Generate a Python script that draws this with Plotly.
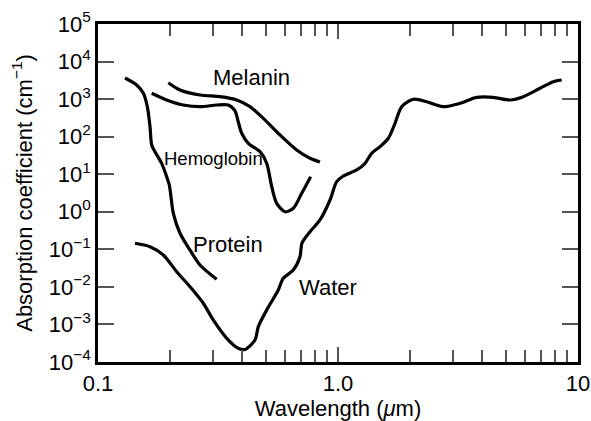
import math
import plotly.graph_objects as go

# ---- data (wavelength in micrometres, absorption coefficient in cm^-1) ----
protein_wl = [0.1296, 0.1449, 0.1545, 0.1605, 0.1647, 0.1674, 0.1727, 0.1842, 0.1933,
              0.1982, 0.2014, 0.2060, 0.2196, 0.2416, 0.2660, 0.3122]
protein_abs = [3650, 2377, 1429, 628, 184, 60, 39.8, 19.5, 8.6,
               5.17, 2.52, 0.912, 0.268, 0.0962, 0.0384, 0.016]

hemo_wl = [0.1674, 0.1933, 0.2266, 0.2660, 0.3122, 0.3490, 0.3723, 0.3842, 0.3970,
           0.4228, 0.4732, 0.5046, 0.5295, 0.5554, 0.6014, 0.6513, 0.7059, 0.7694]
hemo_abs = [1429, 948, 697, 628, 697, 697, 483, 246, 123,
            66.7, 39.8, 19.5, 4.66, 1.68, 1.0, 1.24, 3.11, 8.6]

melanin_wl = [0.1963, 0.2196, 0.2660, 0.3225, 0.3784, 0.4299, 0.4884, 0.5733, 0.6727,
              0.7647, 0.8414]
melanin_abs = [2737, 1750, 1288, 1160, 948, 628, 308, 111, 44.2, 26.6, 21.2]

water_wl = [0.1426, 0.1647, 0.1871, 0.2128, 0.2416, 0.2746, 0.3021, 0.3438, 0.3842,
            0.4097, 0.4509, 0.4656, 0.5046, 0.5638, 0.5916, 0.6513, 0.6945, 0.7080,
            0.7647, 0.8414, 0.9261, 0.9876, 1.052, 1.197, 1.296, 1.382, 1.496, 1.621,
            1.728, 1.842, 2.060, 2.342, 2.747, 3.224, 3.784, 4.437, 5.210, 5.918,
            6.945, 7.890, 8.550]
water_abs = [0.145, 0.1178, 0.0708, 0.0254, 0.01014, 0.00366, 0.001315, 0.000428, 0.000232,
             0.000216, 0.000386, 0.000873, 0.00243, 0.00828, 0.01695, 0.0282, 0.0638, 0.1476,
             0.295, 0.605, 2.06, 6.32, 8.98, 12.97, 19.5, 36.1, 54.1, 90.6,
             227, 628, 989, 853, 628, 774, 1117, 1117, 948, 1160,
             1941, 2911, 3228]

x_major = [0.1, 1, 10]
x_major_text = ["0.1", "1.0", "10"]
x_minor = [0.2, 0.3, 0.4, 0.5, 0.6, 0.7, 0.8, 0.9, 2, 3, 4, 5, 6, 7, 8, 9]
y_ticks = [1e-4, 1e-3, 1e-2, 1e-1, 1e0, 1e1, 1e2, 1e3, 1e4, 1e5]
y_ticktext = ["10<sup>−4</sup>", "10<sup>−3</sup>", "10<sup>−2</sup>", "10<sup>−1</sup>",
              "10<sup>0</sup>", "10<sup>1</sup>", "10<sup>2</sup>", "10<sup>3</sup>",
              "10<sup>4</sup>", "10<sup>5</sup>"]

labels = ["Melanin", "Hemoglobin", "Protein", "Water"]
label_x = [0.438, 0.302, 0.348, 0.908]
label_y = [3650, 25.5, 0.131, 0.0099]

FONT = "Liberation Sans, Arial, Helvetica, sans-serif"
FS = 22

fig = go.Figure()
line = dict(color="black", width=3.2, shape="spline", smoothing=0.8)
for wl, ab in [(protein_wl, protein_abs), (hemo_wl, hemo_abs),
               (melanin_wl, melanin_abs), (water_wl, water_abs)]:
    fig.add_trace(go.Scatter(x=wl, y=ab, mode="lines", line=line,
                             showlegend=False, hoverinfo="skip"))

for i, t in enumerate(labels):
    size = 18.5 if t == "Hemoglobin" else FS
    fig.add_annotation(x=math.log10(label_x[i]), y=math.log10(label_y[i]), text=t,
                       showarrow=False, font=dict(family=FONT, size=size, color="black"),
                       xanchor="center", yanchor="middle")

fig.update_layout(
    width=591, height=421,
    margin=dict(l=98, r=13, t=24, b=59),
    paper_bgcolor="white", plot_bgcolor="white",
    font=dict(family=FONT, size=FS, color="black"),
)
fig.update_xaxes(
    type="log", range=[-1, 1], automargin=False,
    showline=True, linecolor="black", linewidth=2.5, mirror="allticks",
    showgrid=False, zeroline=False,
    tickmode="array", tickvals=x_major, ticktext=x_major_text,
    ticks="inside", ticklen=15, tickwidth=1.5, tickcolor="#555",
    tickfont=dict(family=FONT, size=FS, color="black"),
    minor=dict(tickmode="array", tickvals=x_minor, ticks="inside", ticklen=12,
               tickwidth=1.5, tickcolor="#555", showgrid=False),
    title=dict(text="Wavelength (<i>μ</i>m)", font=dict(family=FONT, size=FS), standoff=4),
)
fig.update_yaxes(
    type="log", range=[-4, 5], automargin=False,
    showline=True, linecolor="black", linewidth=2.5, mirror="allticks",
    showgrid=False, zeroline=False,
    tickmode="array", tickvals=y_ticks, ticktext=y_ticktext,
    ticks="inside", ticklen=16, tickwidth=1.5, tickcolor="#555",
    tickfont=dict(family=FONT, size=FS, color="black"),
    title=dict(text="Absorption coefficient (cm<sup>−1</sup>)", font=dict(family=FONT, size=FS), standoff=11),
)

# remove the browser's default 8px body margin so the figure fills the window
fig.write_html("out.html", config={"displayModeBar": False},
               post_script="document.body.style.margin='0';document.body.style.overflow='hidden';")
